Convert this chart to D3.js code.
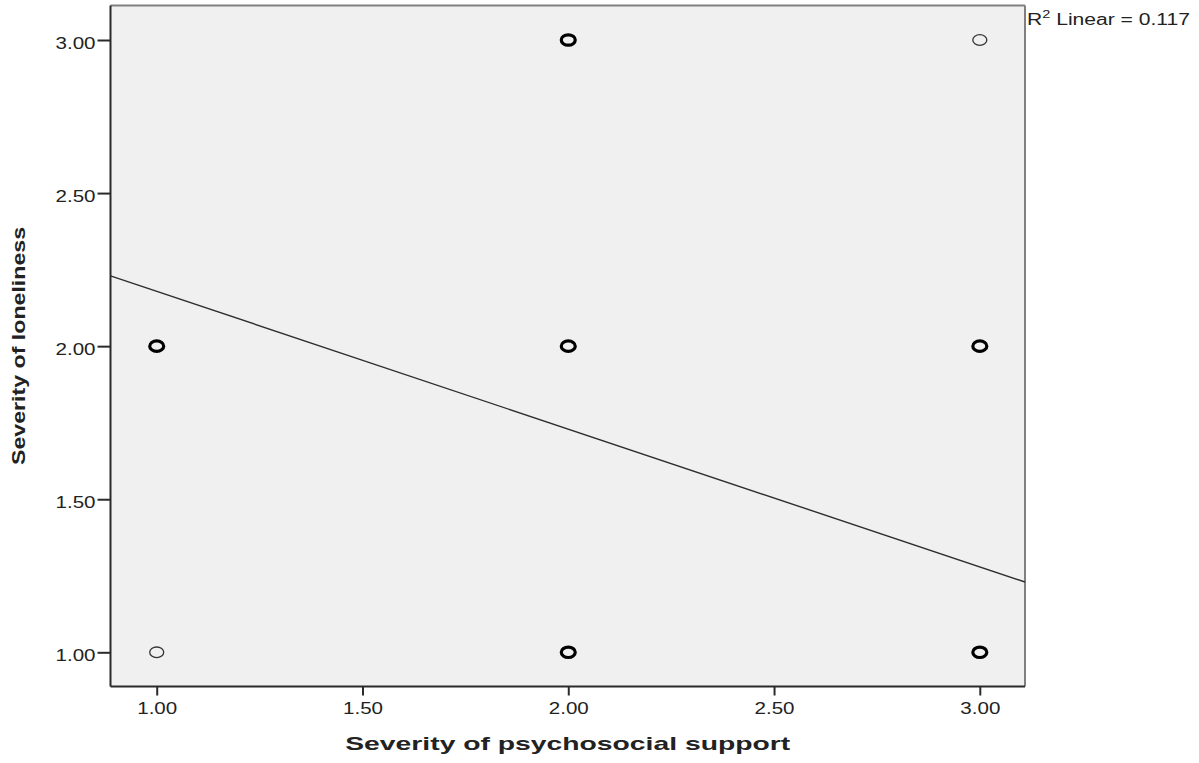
<!DOCTYPE html>
<html>
<head>
<meta charset="utf-8">
<script src="https://cdn.jsdelivr.net/npm/d3@7"></script>
<style>
  html, body { margin: 0; padding: 0; background: #ffffff; }
  svg { display: block; }
  text { font-family: "Liberation Sans", Arial, sans-serif; fill: #222; }
</style>
</head>
<body>
<svg id="chart" width="1199" height="763"></svg>
<script>
// ---- data ----
const supportX   = [1, 1, 2, 2, 2, 3, 3, 3];          // Severity of psychosocial support
const lonelinessY = [1, 2, 1, 2, 3, 1, 2, 3];         // Severity of loneliness
const caseCounts = [1, 4, 6, 8, 5, 6, 4, 1];          // estimated overlap (thin ring = single case)
const xTicks = [1.00, 1.50, 2.00, 2.50, 3.00];
const yTicks = [1.00, 1.50, 2.00, 2.50, 3.00];
const fitIntercept = 2.629;
const fitSlope = -0.450;
const r2Text = "0.117";
const xTitle = "Severity of psychosocial support";
const yTitle = "Severity of loneliness";

// ---- layout ----
const W = 1199, H = 763;
const plot = { left: 110.5, right: 1025, top: 5.5, bottom: 686.5 };
const svg = d3.select("#chart");

const x = d3.scaleLinear().domain([0.8877, 3.1098]).range([plot.left, plot.right]);
const y = d3.scaleLinear().domain([0.8883, 3.1127]).range([plot.bottom, plot.top]);

// plot background
svg.append("rect")
  .attr("x", plot.left).attr("y", plot.top)
  .attr("width", plot.right - plot.left).attr("height", plot.bottom - plot.top)
  .attr("fill", "#f0f0f0");

// top & right frame (gray)
svg.append("line").attr("x1", plot.left).attr("x2", plot.right)
  .attr("y1", plot.top).attr("y2", plot.top)
  .attr("stroke", "#808080").attr("stroke-width", 2);
svg.append("line").attr("x1", plot.right).attr("x2", plot.right)
  .attr("y1", plot.top).attr("y2", plot.bottom)
  .attr("stroke", "#808080").attr("stroke-width", 2);

// axes
const xAxis = d3.axisBottom(x).tickValues(xTicks).tickFormat(d3.format(".2f"))
  .tickSize(9).tickSizeOuter(0).tickPadding(5);
const yAxis = d3.axisLeft(y).tickValues(yTicks).tickFormat(d3.format(".2f"))
  .tickSize(13).tickSizeOuter(0).tickPadding(2);

const gx = svg.append("g").attr("transform", `translate(0,${plot.bottom})`).call(xAxis);
const gy = svg.append("g").attr("transform", `translate(${plot.left},0)`).call(yAxis);

[gx, gy].forEach(g => {
  g.select(".domain").attr("stroke", "#2a2a2a").attr("stroke-width", 2);
  g.selectAll(".tick line").attr("stroke", "#2a2a2a").attr("stroke-width", 2);
  g.selectAll(".tick text")
    .attr("font-family", "Liberation Sans, Arial, sans-serif")
    .attr("font-size", 16)
    .attr("fill", "#2a2a2a")
    .attr("textLength", 40)
    .attr("lengthAdjust", "spacingAndGlyphs");
});
gx.select(".domain").attr("d", `M${plot.left},0H${plot.right}`);
gy.select(".domain").attr("d", `M0,${plot.bottom}V${plot.top}`);
gx.selectAll(".tick text").attr("dy", null).attr("y", 27);
gy.selectAll(".tick text").attr("dy", null).attr("y", 8);

// regression line
const xd = x.domain();
svg.append("line")
  .attr("x1", x(xd[0])).attr("y1", y(fitIntercept + fitSlope * xd[0]))
  .attr("x2", x(xd[1])).attr("y2", y(fitIntercept + fitSlope * xd[1]))
  .attr("stroke", "#2e2e2e").attr("stroke-width", 1.4);

// points
const pts = supportX.map((v, i) => ({ x: v, y: lonelinessY[i], n: caseCounts[i] }));
svg.append("g").selectAll("ellipse").data(pts).join("ellipse")
  .attr("cx", d => x(d.x))
  .attr("cy", d => y(d.y))
  .attr("rx", d => d.n > 1 ? 7 : 7)
  .attr("ry", d => d.n > 1 ? 5.2 : 5.3)
  .attr("fill", "none")
  .attr("stroke", d => d.n > 1 ? "#000" : "#333")
  .attr("stroke-width", d => d.n > 1 ? 3.2 : 1.3);

// R² label
const r2 = svg.append("text")
  .attr("x", 1027).attr("y", 25)
  .attr("font-size", 16)
  .attr("textLength", 163)
  .attr("lengthAdjust", "spacingAndGlyphs");
r2.append("tspan").text("R");
r2.append("tspan").attr("font-size", 11).attr("dy", -7).text("2");
r2.append("tspan").attr("dy", 7).text(" Linear = " + r2Text);

// axis titles
svg.append("text")
  .attr("x", (plot.left + plot.right) / 2).attr("y", 750)
  .attr("text-anchor", "middle")
  .attr("font-weight", "bold").attr("font-size", 18.5)
  .attr("fill", "#111")
  .attr("textLength", 445).attr("lengthAdjust", "spacingAndGlyphs")
  .text(xTitle);

svg.append("text")
  .attr("transform", `translate(25,${(plot.top + plot.bottom) / 2}) rotate(-90)`)
  .attr("text-anchor", "middle")
  .attr("font-weight", "bold").attr("font-size", 18.5)
  .attr("fill", "#111")
  .attr("textLength", 238).attr("lengthAdjust", "spacingAndGlyphs")
  .text(yTitle);
</script>
</body>
</html>
